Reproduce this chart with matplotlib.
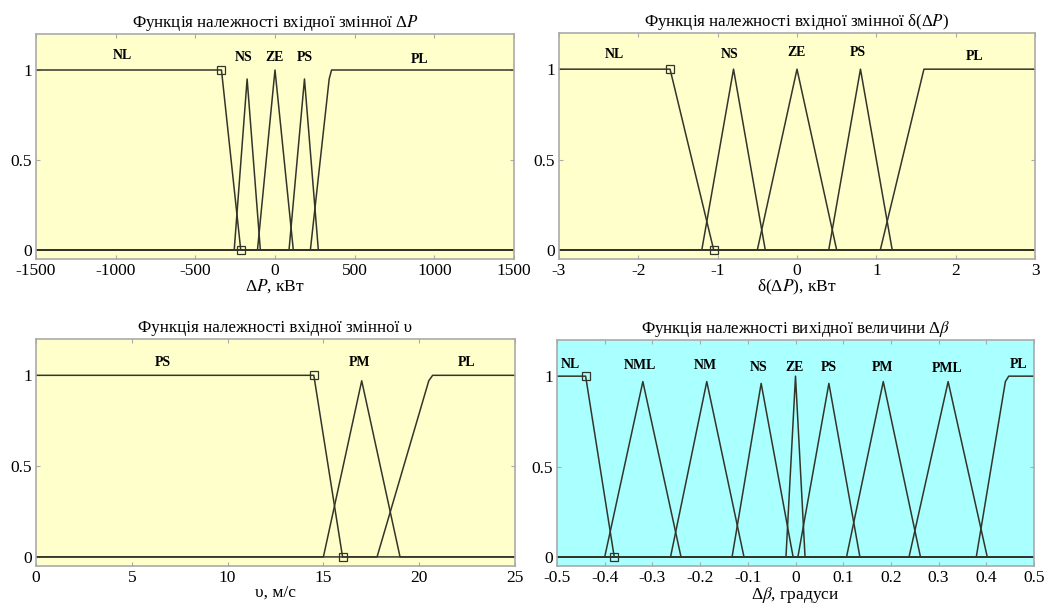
import matplotlib
matplotlib.use('Agg')
import matplotlib.pyplot as plt

plt.rcParams['font.family'] = ['Liberation Serif', 'DejaVu Serif']
plt.rcParams['mathtext.fontset'] = 'stix'
plt.rcParams['axes.unicode_minus'] = False

# Panel 1: input dP, kW
dp_range = [-1500, 1500]
dp_names = ['NL', 'NS', 'ZE', 'PS', 'PL']
dp_x = [[-1500, -336, -215, 1500],
        [-1500, -256, -175, -92, 1500],
        [-1500, -110, 0, 115, 1500],
        [-1500, 88, 185, 272, 1500],
        [-1500, 222, 340, 355, 1500]]
dp_y = [[1, 1, 0, 0],
        [0, 0, 0.95, 0, 0],
        [0, 0, 1, 0, 0],
        [0, 0, 0.95, 0, 0],
        [0, 0, 0.95, 1, 1]]
dp_lbl_x = [-960, -195, -5, 190, 910]
dp_lbl_y = [1.08, 1.07, 1.07, 1.07, 1.06]
dp_ticks = [-1500, -1000, -500, 0, 500, 1000, 1500]

# Panel 2: input d(dP)
ddp_range = [-3, 3]
ddp_names = ['NL', 'NS', 'ZE', 'PS', 'PL']
ddp_x = [[-3, -1.6, -1.05, 3],
         [-3, -1.2, -0.8, -0.4, 3],
         [-3, -0.5, 0, 0.5, 3],
         [-3, 0.4, 0.8, 1.2, 3],
         [-3, 1.05, 1.6, 3]]
ddp_y = [[1, 1, 0, 0],
         [0, 0, 1, 0, 0],
         [0, 0, 1, 0, 0],
         [0, 0, 1, 0, 0],
         [0, 0, 1, 1]]
ddp_lbl_x = [-2.3, -0.85, -0.01, 0.77, 2.24]
ddp_lbl_y = [1.08, 1.08, 1.09, 1.09, 1.07]
ddp_ticks = [-3, -2, -1, 0, 1, 2, 3]

# Panel 3: input wind speed, m/s
v_range = [0, 25]
v_names = ['PS', 'PM', 'PL']
v_x = [[0, 14.5, 16, 25],
       [0, 15, 17, 19, 25],
       [0, 17.8, 20.5, 20.7, 25]]
v_y = [[1, 1, 0, 0],
       [0, 0, 0.97, 0, 0],
       [0, 0, 0.97, 1, 1]]
v_lbl_x = [6.6, 16.9, 22.5]
v_lbl_y = [1.07, 1.07, 1.07]
v_ticks = [0, 5, 10, 15, 20, 25]

# Panel 4: output d(beta), degrees
b_range = [-0.5, 0.5]
b_names = ['NL', 'NML', 'NM', 'NS', 'ZE', 'PS', 'PM', 'PML', 'PL']
b_x = [[-0.5, -0.44, -0.38, 0.5],
       [-0.5, -0.4, -0.32, -0.24, 0.5],
       [-0.5, -0.262, -0.186, -0.108, 0.5],
       [-0.5, -0.133, -0.072, -0.005, 0.5],
       [-0.5, -0.02, 0.0, 0.02, 0.5],
       [-0.5, 0.005, 0.07, 0.135, 0.5],
       [-0.5, 0.107, 0.184, 0.262, 0.5],
       [-0.5, 0.238, 0.32, 0.402, 0.5],
       [-0.5, 0.379, 0.44, 0.447, 0.5]]
b_y = [[1, 1, 0, 0],
       [0, 0, 0.97, 0, 0],
       [0, 0, 0.97, 0, 0],
       [0, 0, 0.96, 0, 0],
       [0, 0, 1, 0, 0],
       [0, 0, 0.96, 0, 0],
       [0, 0, 0.97, 0, 0],
       [0, 0, 0.97, 0, 0],
       [0, 0, 0.97, 1, 1]]
b_lbl_x = [-0.472, -0.325, -0.189, -0.077, -0.003, 0.07, 0.182, 0.318, 0.467]
b_lbl_y = [1.065, 1.06, 1.06, 1.05, 1.05, 1.05, 1.05, 1.04, 1.065]
b_ticks = [-0.5, -0.4, -0.3, -0.2, -0.1, 0, 0.1, 0.2, 0.3, 0.4, 0.5]

YELLOW = '#ffffcc'
CYAN = '#aaffff'
LINE = '#33352a'

fig = plt.figure(figsize=(10.49, 6.10), dpi=100)
W, H = 1049, 610


def make_axes(l, t, r, b):
    return fig.add_axes([l / W, 1 - b / H, (r - l) / W, (b - t) / H])


def draw_panel(ax, xs, ys, names, lx, ly, xr, ticks, bg, title, xlabel, ticklabels=None):
    ax.set_facecolor(bg)
    for x, y in zip(xs, ys):
        ax.plot(x, y, color=LINE, lw=1.1)
    # vertices of the selected (first) membership function
    ax.plot([xs[0][1], xs[0][2]], [ys[0][1], ys[0][2]], ls='none', marker='s',
            ms=6, mfc='none', mec=LINE, mew=0.9)
    for n, x, y in zip(names, lx, ly):
        ax.text(x, y, n, ha='center', va='center', fontsize=10, fontweight='bold')
    ax.set_xlim(xr)
    ax.set_ylim(-0.05, 1.2)
    ax.set_xticks(ticks)
    if ticklabels is not None:
        ax.set_xticklabels(ticklabels)
    ax.set_yticks([0, 0.5, 1])
    ax.set_yticklabels(['0', '0.5', '1'])
    ax.tick_params(direction='in', length=3, color='#aaaaaa', labelsize=12.5,
                   top=True, right=True, pad=3)
    for s in ax.spines.values():
        s.set_color('#aaaaaa')
        s.set_linewidth(1.2)
    ax.set_title(title, fontsize=12.2, pad=5)
    ax.set_xlabel(xlabel, fontsize=12.5, labelpad=-1)


ax1 = make_axes(36, 34, 514, 259)
draw_panel(ax1, dp_x, dp_y, dp_names, dp_lbl_x, dp_lbl_y, dp_range, dp_ticks, YELLOW,
           'Функція належності вхідної змінної Δ$P$', 'Δ$P$, кВт')

ax2 = make_axes(559, 33, 1035, 259)
draw_panel(ax2, ddp_x, ddp_y, ddp_names, ddp_lbl_x, ddp_lbl_y, ddp_range, ddp_ticks, YELLOW,
           'Функція належності вхідної змінної δ(Δ$P$)', 'δ(Δ$P$), кВт')

ax3 = make_axes(36, 339, 515, 566)
draw_panel(ax3, v_x, v_y, v_names, v_lbl_x, v_lbl_y, v_range, v_ticks, YELLOW,
           'Функція належності вхідної змінної υ', 'υ, м/с')

ax4 = make_axes(557, 340, 1034, 566)
draw_panel(ax4, b_x, b_y, b_names, b_lbl_x, b_lbl_y, b_range, b_ticks, CYAN,
           'Функція належності вихідної величини Δ$\\beta$', 'Δ$\\beta$, градуси',
           ticklabels=['-0.5', '-0.4', '-0.3', '-0.2', '-0.1', '0',
                       '0.1', '0.2', '0.3', '0.4', '0.5'])

fig.savefig('out.png', dpi=100)
